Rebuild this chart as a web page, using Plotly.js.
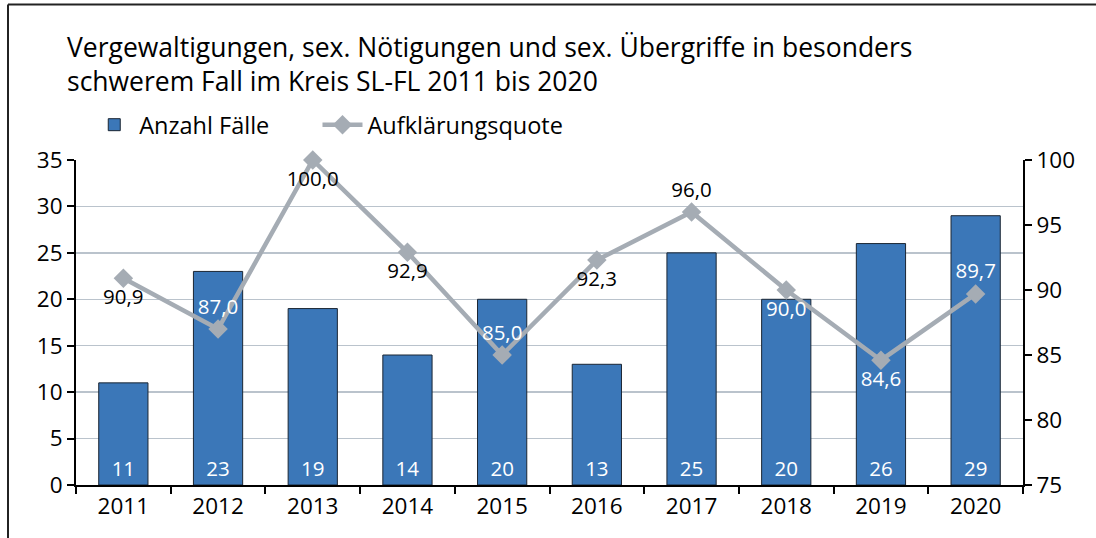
<!DOCTYPE html>
<html>
<head>
<meta charset="utf-8">
<script src="https://cdn.plot.ly/plotly-3.0.1.min.js"></script>
<style>html,body{margin:0;padding:0;background:#fff;}#chart{width:1096px;height:538px;}</style>
</head>
<body>
<div id="chart"></div>
<script>
const years = ['2011','2012','2013','2014','2015','2016','2017','2018','2019','2020'];
const cases = [11, 23, 19, 14, 20, 13, 25, 20, 26, 29];
const clearance = [90.9, 87.0, 100.0, 92.9, 85.0, 92.3, 96.0, 90.0, 84.6, 89.7];
const clearanceLabelPos = ['bottom center','top center','bottom center','bottom center','top center','bottom center','top center','bottom center','bottom center','top center'];
const clearanceLabelColor = ['#000','#fff','#000','#000','#fff','#000','#000','#fff','#fff','#fff'];

const FONT = '"Open Sans", "Noto Sans", sans-serif';

const traces = [
  {
    type: 'bar', name: 'Anzahl Fälle', x: years, y: cases, legend: 'legend',
    marker: {color: '#3B77B8', line: {color: '#1b2633', width: 1}},
    width: 0.52,
    text: cases.map(String), textposition: 'inside', insidetextanchor: 'start',
    textfont: {color: '#ffffff', size: 20.5, family: FONT},
    cliponaxis: false, hoverinfo: 'skip'
  },
  {
    type: 'scatter', mode: 'lines+markers+text', name: 'Aufklärungsquote', legend: 'legend2',
    x: years, y: clearance, yaxis: 'y2',
    line: {color: '#A5ACB4', width: 4.5},
    marker: {symbol: 'diamond', size: 15, color: '#A5ACB4'},
    texttemplate: '%{y:.1f}', textposition: clearanceLabelPos,
    textfont: {color: clearanceLabelColor, size: 20.5, family: FONT},
    cliponaxis: false, hoverinfo: 'skip'
  }
];

const legendBase = {
  orientation: 'h', xanchor: 'left', y: 1.108, yanchor: 'middle',
  font: {family: FONT, size: 23.5, color: '#000'},
  itemwidth: 40, bgcolor: 'rgba(0,0,0,0)'
};

const layout = {
  width: 1096, height: 538,
  margin: {l: 76, r: 73, t: 160, b: 53},
  paper_bgcolor: '#fff', plot_bgcolor: '#fff',
  separators: ', ',
  font: {family: FONT, color: '#000', size: 20},
  title: {
    text: 'Vergewaltigungen, sex. Nötigungen und sex. Übergriffe in besonders<br>schwerem Fall im Kreis SL-FL 2011 bis 2020',
    x: 0, xref: 'paper', xanchor: 'left', y: 0.894, yref: 'container', yanchor: 'middle',
    pad: {t: 0, b: 0, l: -9},
    font: {family: FONT, size: 26.5, color: '#000'}
  },
  showlegend: true,
  legend: Object.assign({}, legendBase, {x: 0.014}),
  legend2: Object.assign({}, legendBase, {x: 0.255}),
  xaxis: {
    type: 'category', range: [-0.5, 9.5], tickson: 'boundaries', ticks: 'outside', ticklen: 7, tickwidth: 2, tickcolor: '#000',
    showline: true, linecolor: '#000', linewidth: 2, showgrid: false,
    tickfont: {family: FONT, size: 22.5, color: '#000'}
  },
  yaxis: {
    range: [0, 35], dtick: 5, ticks: 'outside', ticklen: 7, tickwidth: 2, tickcolor: '#000',
    showline: true, linecolor: '#000', linewidth: 2,
    showgrid: true, gridcolor: '#BAC3CC', gridwidth: 1.5, zeroline: false,
    tickfont: {family: FONT, size: 22.5, color: '#000'}
  },
  yaxis2: {
    range: [75, 100], dtick: 5, overlaying: 'y', side: 'right',
    ticks: 'outside', ticklen: 7, tickwidth: 2, tickcolor: '#000',
    showline: true, linecolor: '#000', linewidth: 2, showgrid: false, zeroline: false,
    tickfont: {family: FONT, size: 22.5, color: '#000'}
  },
  shapes: [
    {type: 'line', xref: 'paper', yref: 'paper', x0: -0.0718, x1: 1.2, y0: 1.4788, y1: 1.4788, line: {color: '#222', width: 2}},
    {type: 'line', xref: 'paper', yref: 'paper', x0: -0.0718, x1: -0.0718, y0: 1.4788, y1: -0.3, line: {color: '#222', width: 2}}
  ]
};

Plotly.newPlot('chart', traces, layout, {displayModeBar: false, staticPlot: true});
</script>
</body>
</html>
